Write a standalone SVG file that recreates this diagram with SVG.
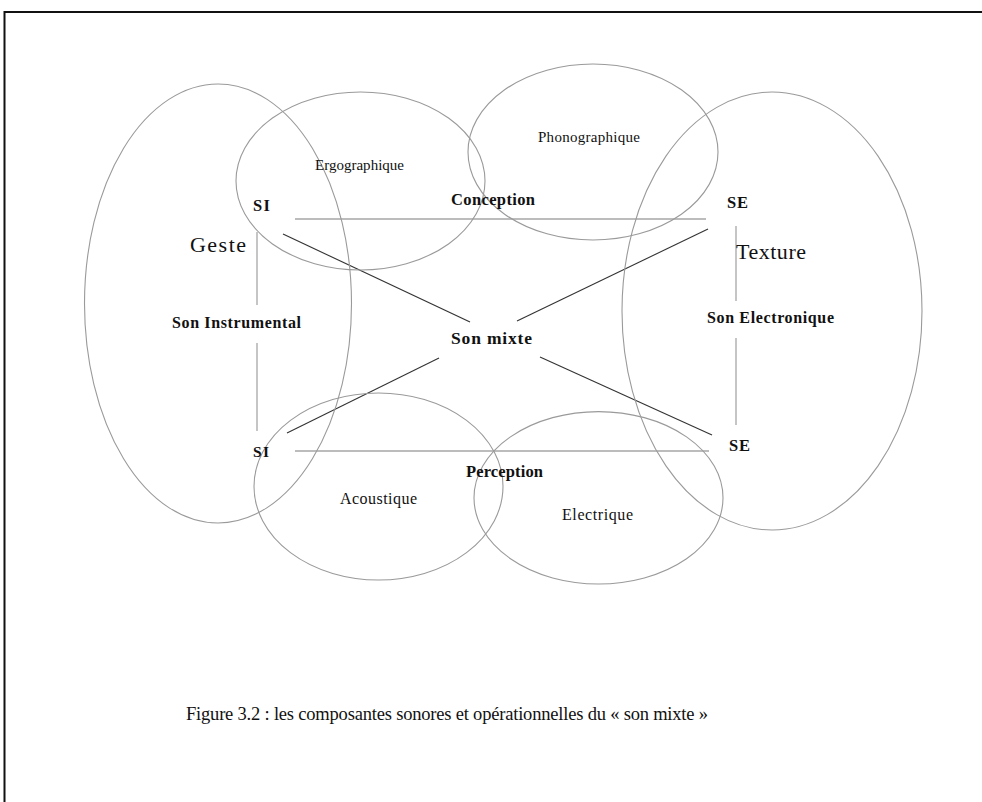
<svg xmlns="http://www.w3.org/2000/svg" width="982" height="802" viewBox="0 0 982 802">
<style>
.ell{fill:none;stroke:#9a9a9a;stroke-width:1.1}
.gl{stroke:#a6a6a6;stroke-width:1.3;fill:none}
.dl{stroke:#333;stroke-width:1.1;fill:none}
text{font-family:"Liberation Serif","Times New Roman",serif;fill:#111}
.b{font-weight:bold}
</style>
<rect width="982" height="802" fill="#fff"/>
<path d="M4.5,1000 V12 H1000" fill="none" stroke="#111" stroke-width="2"/>
<g id="connectors">
<line class="gl" x1="295" y1="219" x2="706" y2="219"/>
<line class="gl" x1="295" y1="451" x2="709" y2="451"/>
<line class="gl" x1="257" y1="232" x2="257" y2="305"/>
<line class="gl" x1="257" y1="343" x2="257" y2="431"/>
<line class="gl" x1="736" y1="226" x2="736" y2="301"/>
<line class="gl" x1="736" y1="338" x2="736" y2="425"/>
<line class="dl" x1="283" y1="234" x2="470" y2="322"/>
<line class="dl" x1="708" y1="229" x2="517" y2="321"/>
<line class="dl" x1="439" y1="358" x2="287" y2="433"/>
<line class="dl" x1="540" y1="357" x2="712" y2="435"/>
</g>
<g id="geste"><ellipse class="ell" cx="218" cy="303.5" rx="133.5" ry="219.5"/><text x="190" y="252" font-size="22" textLength="56">Geste</text></g>
<g id="ergographique"><ellipse class="ell" cx="360.5" cy="181" rx="124.5" ry="89"/><text x="315" y="170" font-size="15" textLength="89">Ergographique</text></g>
<g id="phonographique"><ellipse class="ell" cx="593" cy="152" rx="125" ry="88"/><text x="538" y="142" font-size="15" textLength="102">Phonographique</text></g>
<g id="texture"><ellipse class="ell" cx="772" cy="311" rx="150" ry="219"/><text x="736" y="259" font-size="22" textLength="70">Texture</text></g>
<g id="acoustique"><ellipse class="ell" cx="378.5" cy="486.5" rx="124.5" ry="93.5"/><text x="340" y="504" font-size="16" textLength="77">Acoustique</text></g>
<g id="electrique"><ellipse class="ell" cx="598.5" cy="497.8" rx="124.5" ry="86.2"/><text x="562" y="520" font-size="16" textLength="71">Electrique</text></g>
<g id="si-top"><text class="b" x="253" y="211" font-size="16.5" textLength="17">SI</text></g>
<g id="se-top"><text class="b" x="727" y="208" font-size="16.5" textLength="21">SE</text></g>
<g id="si-bottom"><text class="b" x="253" y="457" font-size="15.5" textLength="16">SI</text></g>
<g id="se-bottom"><text class="b" x="729" y="451" font-size="16.5" textLength="21">SE</text></g>
<g id="conception"><text class="b" x="451" y="205" font-size="16.5" textLength="84">Conception</text></g>
<g id="perception"><text class="b" x="466" y="477" font-size="16.5" textLength="77">Perception</text></g>
<g id="son-instrumental"><text class="b" x="172" y="328" font-size="16" textLength="129">Son Instrumental</text></g>
<g id="son-electronique"><text class="b" x="707" y="323" font-size="16" textLength="127">Son Electronique</text></g>
<g id="son-mixte"><text class="b" x="451" y="344" font-size="17.5" textLength="81">Son mixte</text></g>
<text x="186" y="720" font-size="18.5" textLength="522">Figure 3.2 : les composantes sonores et opérationnelles du « son mixte »</text>
</svg>
